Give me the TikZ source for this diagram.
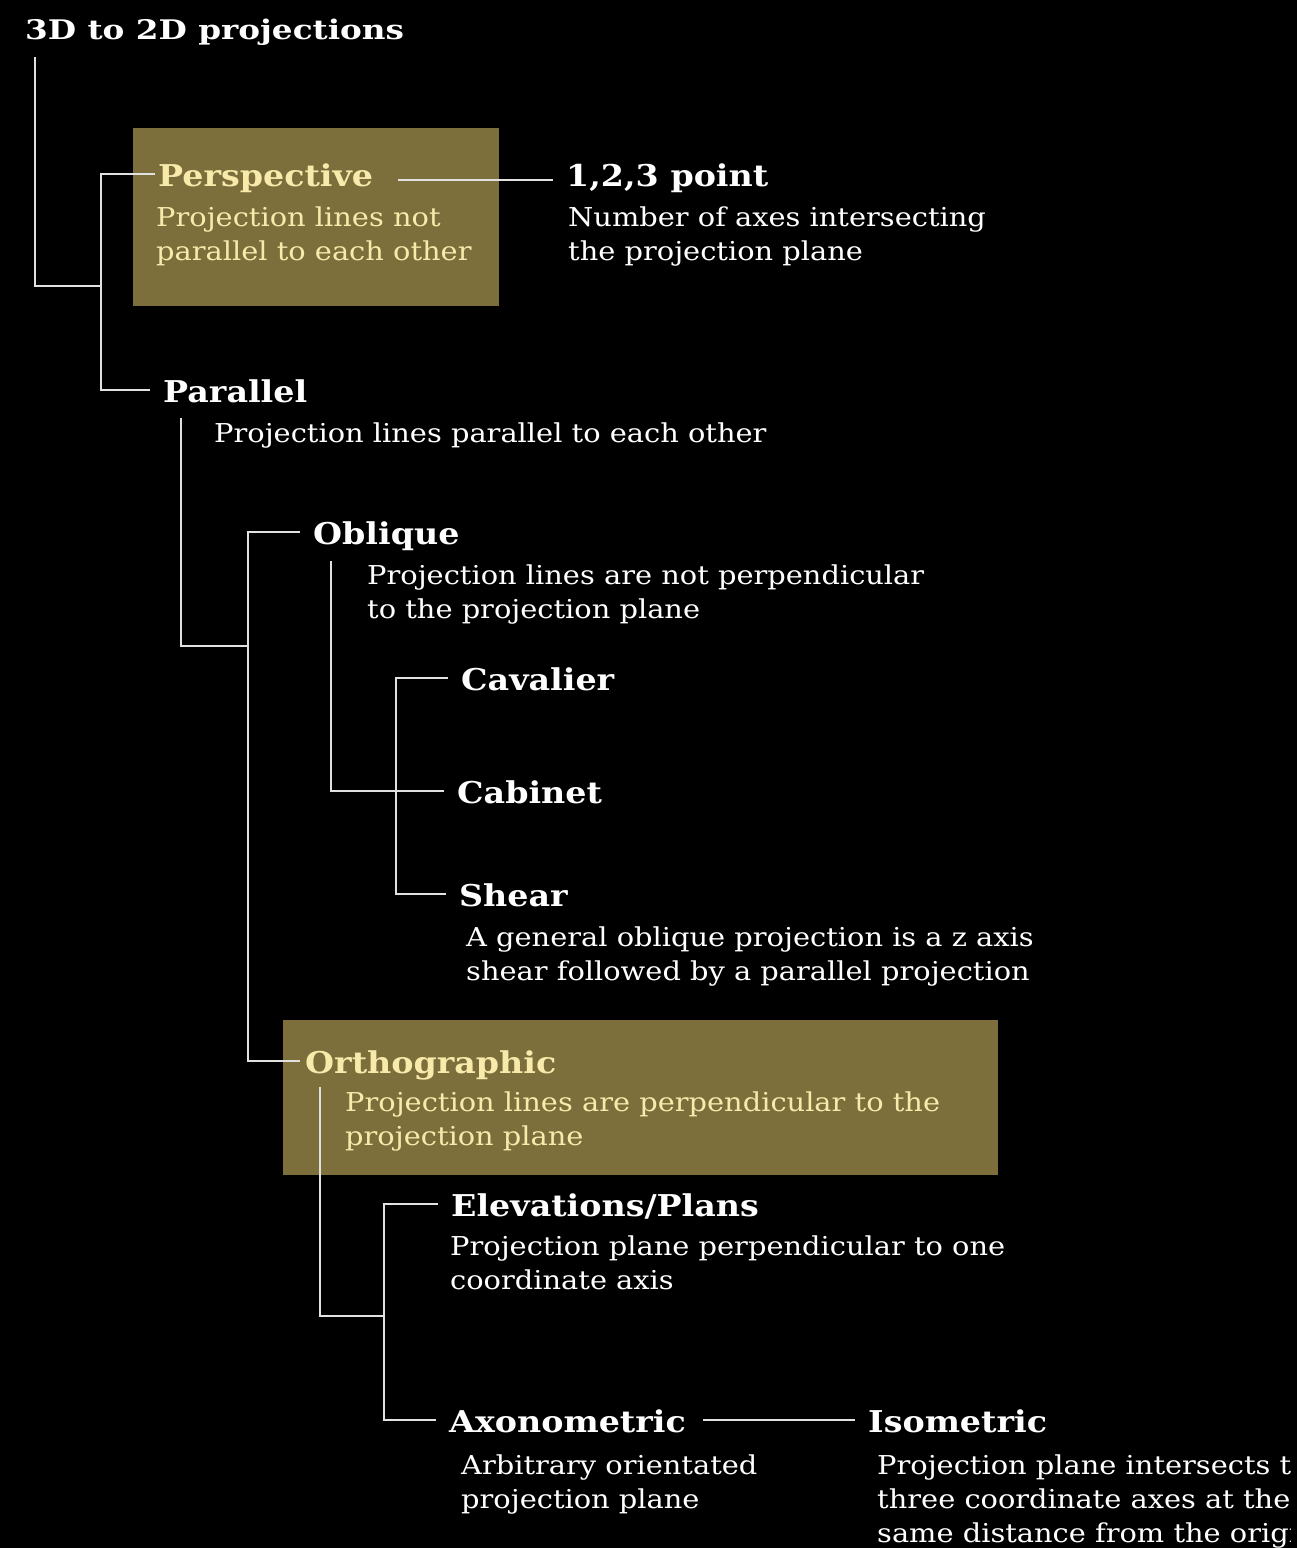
\documentclass[tikz,border=0pt]{standalone}
\usepackage{fontspec}
\setmainfont{DejaVu Serif}
\newfontfamily\bodyfont{DejaVu Serif}[FakeStretch=1.11]
\newfontfamily\headfont{DejaVu Serif}[FakeStretch=1.11]
\newfontfamily\titlefont{DejaVu Serif}[FakeStretch=1.21]
\definecolor{boxolive}{RGB}{124,111,60}
\definecolor{cream}{RGB}{248,234,170}
\definecolor{wire}{RGB}{225,225,225}
\tikzset{
  head/.style={inner ysep=0, inner xsep=13pt, text height=24pt, text depth=0pt, anchor=west, font=\headfont\fontsize{30}{34}\selectfont\bfseries, text=white},
  desc/.style={inner sep=0, anchor=base west, align=left, font=\bodyfont\fontsize{26}{34}\selectfont, text=white},
  conn/.style={wire, line width=2pt},
  panel/.style={fill=boxolive, draw=none},
}
\begin{document}
\begin{tikzpicture}[x=1pt,y=-1pt]
	\fill [black] (0,0) rectangle (1297,1548);
	\clip (0,0) rectangle (1290,1548);
	% highlighted panels
	\fill [panel] (133,128) rectangle (499,306);
	\fill [panel] (283,1020) rectangle (998,1175);
	% headings
	\node [head, inner xsep=10pt, font=\titlefont\fontsize{27}{34}\selectfont\bfseries] (title) at (15,27) {3D to 2D projections};
	\node [head, inner xsep=3pt, text=cream] (persp) at (155,174) {Perspective};
	\node [head] (point) at (553,174) {1,2,3 point};
	\node [head] (para) at (150,390) {Parallel};
	\node [head] (obl) at (300,532) {Oblique};
	\node [head] (cav) at (448,678) {Cavalier};
	\node [head] (cab) at (444,791) {Cabinet};
	\node [head] (shear) at (446,894) {Shear};
	\node [head, inner xsep=5pt, text=cream] (ortho) at (300,1061) {Orthographic};
	\node [head] (elev) at (438,1204) {Elevations/Plans};
	\node [head] (axo) at (436,1420) {Axonometric};
	\node [head] (iso) at (855,1420) {Isometric};
	% descriptions (placed at the baseline of their last line)
	\node [desc, text=cream] (perspd) at (156,260) {Projection lines not\\parallel to each other};
	\node [desc] (pointd) at (568,260) {Number of axes intersecting\\the projection plane};
	\node [desc] (parad) at (214,442) {Projection lines parallel to each other};
	\node [desc] (obld) at (367,618) {Projection lines are not perpendicular\\to the projection plane};
	\node [desc] (sheard) at (466,980) {A general oblique projection is a z axis\\shear followed by a parallel projection};
	\node [desc, text=cream] (orthod) at (345,1145) {Projection lines are perpendicular to the\\projection plane};
	\node [desc] (elevd) at (450,1289) {Projection plane perpendicular to one\\coordinate axis};
	\node [desc] (axod) at (461,1508) {Arbitrary orientated\\projection plane};
	\node [desc] (isod) at (877,1542) {Projection plane intersects the\\three coordinate axes at the\\same distance from the origin};
	% tree junctions and tails
	\coordinate (t0) at (35,57);
	\coordinate (j0) at (101,286);
	\coordinate (t1) at (181,418);
	\coordinate (j1) at (248,646);
	\coordinate (t2) at (331,561);
	\coordinate (j2) at (396,791);
	\coordinate (t3) at (320,1087);
	\coordinate (j3) at (384,1316);
	% connectors
	\draw [conn] (t0) |- (j0);
	\draw [conn] (persp.west) -| (j0) |- (para.west);
	\draw [conn] ([xshift=22pt,yshift=-6pt]persp.east) -- ([yshift=-6pt]point.west);
	\draw [conn] (t1) |- (j1);
	\draw [conn] (obl.west) -| (j1) |- (ortho.west);
	\draw [conn] (t2) |- (cab.west);
	\draw [conn] (cav.west) -| (j2) |- (shear.west);
	\draw [conn] (t3) |- (j3);
	\draw [conn] (elev.west) -| (j3) |- (axo.west);
	\draw [conn] ([xshift=4pt]axo.east) -- (iso.west);
\end{tikzpicture}
\end{document}
